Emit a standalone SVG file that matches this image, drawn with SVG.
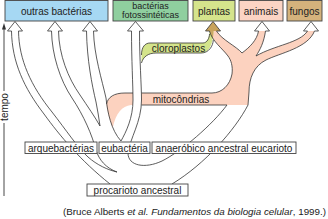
<svg xmlns="http://www.w3.org/2000/svg" width="328" height="219" viewBox="0 0 328 219">
<style>
text{font-family:"Liberation Sans",Arial,sans-serif;font-size:10px;fill:#222}
.ln{fill:none;stroke:#333;stroke-width:0.8;stroke-linejoin:round}
.box{stroke:#444;stroke-width:0.9}
.wb{fill:#fff;stroke:#444;stroke-width:0.9}
.ah{fill:#fff;stroke:#333;stroke-width:0.8;stroke-linejoin:miter}
</style>
<defs>
<path id="pinkShape" d="M106.5,104 C108,97 114,93 125,93 L212,93 C222,93 230,85 232,74 C233,66 231,60 228,56 C222,48 212,41 209.5,31 L216.5,31 C222,40 236,46 242,53 C250,47 257,40 258.5,31 L265.5,31 C264,42 260,50 256,56 C275,45 300,43 307.5,31 L314.5,31 C308,48 280,53 266,60 C254,66 249,78 249,92 L248,105 L131,105 C122,106 116,113 112.8,127.5 C109,118 107,110 106.5,104 Z"/>
<path id="greenShape" d="M141.5,66 L141.5,55 C141.5,47 145,43 150,43 L203,43 C207,43 209.5,38 209.5,31 L213.5,31 C213,45 209,53 201,53 L156,53 C148,53 143,57 141.5,63 Z"/>
<clipPath id="pinkClip"><use href="#pinkShape"/></clipPath>
</defs>

<g id="fills">
<use href="#pinkShape" fill="#fcd2bf"/>
<use href="#greenShape" fill="#d4e48b"/>
<use href="#greenShape" fill="#caa862" clip-path="url(#pinkClip)"/>
<path d="M133,88 L141.5,88 L141.5,110 L132.8,110 Z" fill="#fff"/>
</g>

<g id="connectors">
<path class="ln" d="M11.5,31 C12,62 24,88 44,114 C60,136 80,160 110,184"/>
<path class="ln" d="M18.5,31 C19,60 31,86 52,112 C66,130 78,148 88,157 C97,165 108,170 117,172"/>
<path class="ln" d="M51.5,31 C52,55 60,80 72,98 C84,116 92,135 96,150 C99,160 106,168 117,172"/>
<path class="ln" d="M58.5,31 C59,55 68,78 80,95 C88,107 95,117 100,126"/>
<path class="ln" d="M86.5,31 C87,60 92,85 96,102 C97.5,110 99,118 100,126"/>
<path class="ln" d="M93.5,31 C94,55 102,80 106,98 C107.5,112 111,130 121,141"/>
<path class="ln" d="M106.5,104 C108,97 114,93 125,93 L133,93"/>
<path class="ln" d="M141.5,93 L212,93 C222,93 230,85 232,74 C233,66 231,60 228,56 C222,48 212,41 209.5,31"/>
<path class="ln" d="M141.5,105 L227,105"/>
<path class="ln" d="M131.5,31 C131.5,60 133,85 133,100 C133,118 126,132 121,141"/>
<path class="ln" d="M139.5,31 C139.5,60 141.5,85 141.5,100 C141.5,122 130,138 128,153 C128,166 145,169 162,161 C182,151 212,125 227,105"/>
<path class="ln" d="M141.5,55 C141.5,47 145,43 150,43 L203,43 C207,43 209.5,38 209.5,34"/>
<path class="ln" d="M141.5,63 C143,57 148,53 156,53 L201,53 C209,53 213,46 213.3,40"/>
<path class="ln" d="M216.5,31 C222,40 236,46 242,53"/>
<path class="ln" d="M258.5,31 C257,40 250,47 242,53"/>
<path class="ln" d="M265.5,31 C264,42 260,50 256,56"/>
<path class="ln" d="M307.5,31 C300,43 275,45 256,56"/>
<path class="ln" d="M314.5,31 C308,48 280,53 266,60 C254,66 249,78 249,92 L248,105 C235,130 205,164 172,184"/>
<path class="ah" d="M11.5,31 L7.5,31 L15,21.5 L22.5,31 L18.5,31"/>
<path class="ah" d="M51.5,31 L47.5,31 L55,21.5 L62.5,31 L58.5,31"/>
<path class="ah" d="M86.5,31 L82.5,31 L90,21.5 L97.5,31 L93.5,31"/>
<path class="ah" d="M131.5,31 L127.5,31 L135.5,21.5 L143.5,31 L139.5,31"/>
<path class="ah" d="M209.5,31 L205.5,31 L213,21.5 L220.5,31 L216.5,31" style="fill:#c9a45c"/>
<path class="ah" d="M258.5,31 L254.5,31 L262,21.5 L269.5,31 L265.5,31"/>
<path class="ah" d="M307.5,31 L303.5,31 L311,21.5 L318.5,31 L314.5,31"/>
</g>

<g id="axis">
<line x1="4" y1="28" x2="4" y2="91" stroke="#333" stroke-width="0.9"/>
<line x1="4" y1="123" x2="4" y2="196" stroke="#333" stroke-width="0.9"/>
<polygon points="4,23 2,29.5 6,29.5" fill="#333"/>
<text transform="translate(7.5,107) rotate(-90)" text-anchor="middle">tempo</text>
</g>

<g id="outras-bacterias">
<rect class="box" x="5" y="0.5" width="103" height="20.5" fill="#a6d8f3"/>
<text x="56.5" y="14.5" text-anchor="middle">outras bactérias</text>
</g>
<g id="bacterias-fotossinteticas">
<rect class="box" x="113" y="0.5" width="75" height="20.5" fill="#8fcf9f"/>
<text x="150.5" y="9.3" text-anchor="middle" style="font-size:9px">bactérias</text>
<text x="150.5" y="18.3" text-anchor="middle" style="font-size:9px">fotossintéticas</text>
</g>
<g id="plantas">
<rect class="box" x="193" y="0.5" width="42" height="20.5" fill="#d5e48c"/>
<text x="214" y="14.5" text-anchor="middle">plantas</text>
</g>
<g id="animais">
<rect class="box" x="239" y="0.5" width="44" height="20.5" fill="#fbd4c4"/>
<text x="261" y="14.5" text-anchor="middle">animais</text>
</g>
<g id="fungos">
<rect class="box" x="287" y="0.5" width="35" height="20.5" fill="#d4b27c"/>
<text x="304.5" y="14.5" text-anchor="middle">fungos</text>
</g>

<g id="cloroplastos"><text x="178.5" y="51.5" text-anchor="middle">cloroplastos</text></g>
<g id="mitocondrias"><text x="181" y="103" text-anchor="middle">mitocôndrias</text></g>

<g id="arquebacterias">
<rect class="wb" x="25" y="142" width="72" height="11.5"/>
<text x="61" y="151.5" text-anchor="middle">arquebactérias</text>
</g>
<g id="eubacteria">
<rect class="wb" x="99" y="142" width="51" height="11.5"/>
<text x="124.5" y="151.5" text-anchor="middle">eubactéria</text>
</g>
<g id="anaerobico">
<rect class="wb" x="152" y="142" width="144" height="11.5"/>
<text x="224" y="151.5" text-anchor="middle">anaeróbico ancestral eucarioto</text>
</g>
<g id="procarioto">
<rect class="wb" x="87" y="184" width="101" height="12"/>
<text x="137.5" y="193.5" text-anchor="middle">procarioto ancestral</text>
</g>

<text x="326" y="214.5" text-anchor="end" style="font-size:9.8px">(Bruce Alberts <tspan font-style="italic">et al.</tspan> <tspan font-style="italic">Fundamentos da biologia celular</tspan>, 1999.)</text>
</svg>
